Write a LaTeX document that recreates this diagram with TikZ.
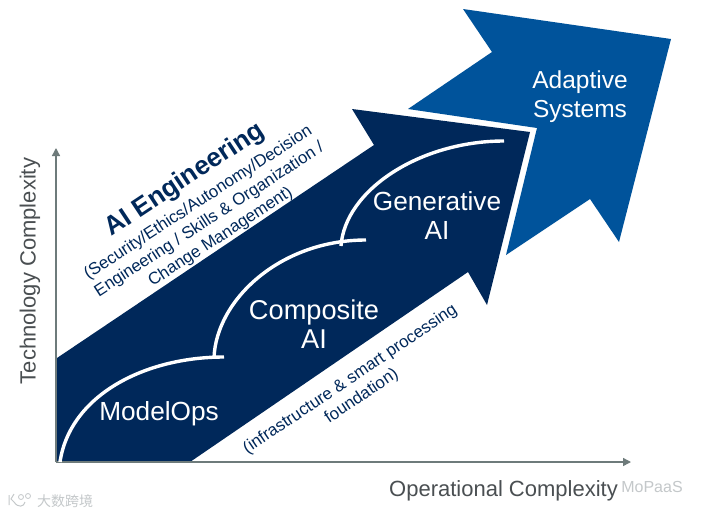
\documentclass[tikz,border=0pt]{standalone}
\usepackage{fontspec}
\setmainfont{Liberation Sans}
\newfontfamily\cjk{Noto Sans CJK SC}
\usetikzlibrary{arrows.meta}
\definecolor{navy}{HTML}{00285A}
\definecolor{midblue}{HTML}{00539B}
\definecolor{axisgray}{HTML}{6E7B7B}
\definecolor{labelgray}{HTML}{4A4F52}
\definecolor{wmgray}{HTML}{C4C8CA}
\tikzset{
  curve/.style={draw=white,line width=3.4pt},
  axis/.style={draw=axisgray,line width=1.5pt,-{Triangle[length=8pt,width=8pt]}},
  stage/.style={text=white,font=\fontsize{26.2}{29}\selectfont,align=center},
  slanted/.style={text=navy,rotate=33,align=center,font=\fontsize{16.9}{20.5}\selectfont},
  axislabel/.style={text=labelgray,font=\fontsize{22}{26}\selectfont},
}
\begin{document}
\begin{tikzpicture}[x=1pt,y=-1pt]
\useasboundingbox (0,0) rectangle (707,515);
\fill[white] (0,0) rectangle (707,515);
\fill[midblue] (463,9) -- (671,39) -- (619,242) -- (590,199) -- (506,255) -- (537,128) -- (408,109) -- (492,52) -- cycle;
\fill[navy] (352,109) -- (530,132) -- (487,305) -- (468,272) -- (190,462) -- (57,462) -- (57,358) -- (374,145) -- cycle;
\coordinate (o) at (56,462);
\coordinate (ytip) at (56,148);
\coordinate (xtip) at (631,462);
\draw[axis] (o) -- (ytip);
\draw[axis] (o) -- (xtip);
\coordinate (a1) at (60,462); \coordinate (a2) at (224,357);
\coordinate (b1) at (214,358); \coordinate (b2) at (366,240);
\coordinate (c1) at (341,246); \coordinate (c2) at (504,141);
\draw[curve] (a1) .. controls (70,395) and (145,357) .. (a2);
\draw[curve] (b1) .. controls (216,300) and (280,240) .. (b2);
\draw[curve] (c1) .. controls (345,190) and (420,141) .. (c2);
\node[stage] (modelops) at (159,414) {ModelOps};
\node[stage,font=\fontsize{27.2}{29}\selectfont] (composite) at (314,324) {Composite\\AI};
\node[stage] (generative) at (437,216) {Generative\\AI};
\node[stage,font=\fontsize{24.5}{29}\selectfont] (adaptive) at (580,97) {Adaptive\\Systems};
\node[text=navy,rotate=33.5,font=\bfseries\fontsize{26.2}{29}\selectfont] (aieng) at (185,180) {AI Engineering};
\node[slanted] (sec) at (209.5,220) {(Security/Ethics/Autonomy/Decision\\Engineering / Skills \& Organization /\\Change Management)};
\node[slanted,rotate=1] (infra) at (356,388) {(infrastructure \& smart processing\\foundation)};
\node[axislabel,rotate=90] (ylab) at (30,271) {Technology Complexity};
\node[axislabel] (xlab) at (503.5,491) {Operational Complexity};
\node[text=wmgray,font=\fontsize{16}{18}\selectfont] (mopaas) at (652,487) {MoPaaS};
\node[text=wmgray,font=\cjk\fontsize{14}{15}\selectfont] (dashu) at (65,501) {大数跨境};
\draw[wmgray,line width=1pt] (9,495) -- (9,505) (14,494) -- (11,499) -- (14,502) .. controls (18,508) and (24,507) .. (25,502);
\draw[wmgray,line width=.8pt] (21,497) circle (2.5pt) (28,496) circle (2.5pt);
\end{tikzpicture}
\end{document}
